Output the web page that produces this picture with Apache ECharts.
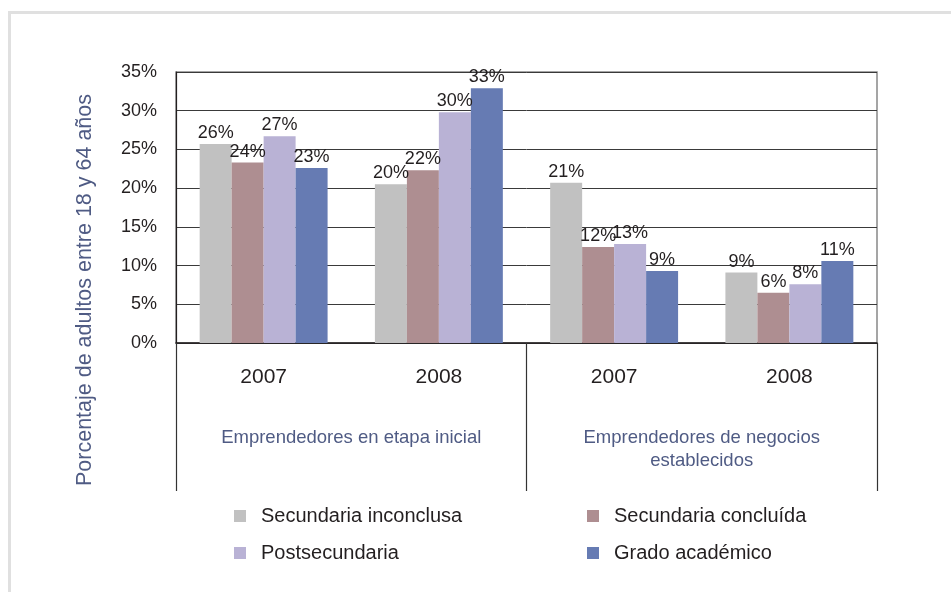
<!DOCTYPE html>
<html>
<head>
<meta charset="utf-8">
<script src="https://cdn.jsdelivr.net/npm/echarts@6/dist/echarts.min.js"></script>
<style>
	html, body {margin: 0; padding: 0; background: #fff;}
	#main {width: 951px; height: 592px;}
</style>
</head>
<body>
<div id="main"></div>
<script>
	// categorias del eje x
	var years = ['2007', '2008', '2007', '2008']
	var groups = ['Emprendedores en etapa inicial', 'Emprendedores de negocios\nestablecidos']
	var yTicks = [0, 5, 10, 15, 20, 25, 30, 35]

	// valores (%)
	var secInconclusa = [25.7, 20.5, 20.7, 9.1]
	var secConcluida = [23.3, 22.3, 12.4, 6.5]
	var postsecundaria = [26.7, 29.8, 12.8, 7.6]
	var gradoAcademico = [22.6, 32.9, 9.3, 10.6]

	// etiquetas tal como aparecen
	var lblInconclusa = ['26%', '20%', '21%', '9%']
	var lblConcluida = ['24%', '22%', '12%', '6%']
	var lblPost = ['27%', '30%', '13%', '8%']
	var lblGrado = ['23%', '33%', '9%', '11%']

	var names = ['Secundaria inconclusa', 'Secundaria concluída', 'Postsecundaria', 'Grado académico']
	var colors = ['#c1c1c1', '#ae8e91', '#b9b2d5', '#667bb3']

	var font = 'Arial, "Liberation Sans", sans-serif'
	var chart = echarts.init(document.getElementById('main'))

	function makeSeries(idx, values, labels) {
		return {
			name: names[idx],
			type: 'bar',
			xAxisIndex: 0,
			barGap: '0%',
			barCategoryGap: '27%',
			itemStyle: {color: colors[idx]},
			label: {
				show: true,
				position: 'top',
				distance: 2,
				fontSize: 18,
				fontFamily: font,
				color: '#231f20',
				formatter: function(p) { return labels[p.dataIndex] }
			},
			data: values
		}
	}

	var legendText = {fontSize: 20, fontFamily: font, color: '#231f20', padding: [0, 0, 0, 10]}

	chart.setOption({
		backgroundColor: '#fff',
		animation: false,
		grid: {
			left: 176, right: 74, top: 72, bottom: 249,
			show: true, borderColor: '#888', borderWidth: 1.5
		},
		legend: [{
			data: [names[0], names[2]],
			orient: 'vertical',
			left: 234, top: 506, padding: 0,
			icon: 'rect', itemWidth: 12, itemHeight: 12, itemGap: 17,
			textStyle: legendText
		}, {
			data: [names[1], names[3]],
			orient: 'vertical',
			left: 587, top: 506, padding: 0,
			icon: 'rect', itemWidth: 12, itemHeight: 12, itemGap: 17,
			textStyle: legendText
		}],
		xAxis: [{
			type: 'category',
			data: years,
			position: 'bottom',
			axisLine: {lineStyle: {color: '#231f20', width: 1.5}},
			axisTick: {show: false},
			axisLabel: {fontSize: 21, fontFamily: font, color: '#231f20', margin: 24}
		}, {
			type: 'category',
			data: groups,
			position: 'bottom',
			axisLine: {show: false},
			axisTick: {show: true, length: 148, lineStyle: {color: '#333', width: 1.2}},
			axisLabel: {fontSize: 18.5, fontFamily: font, color: '#4f5b84', margin: 83, lineHeight: 23}
		}],
		yAxis: {
			type: 'value',
			min: yTicks[0],
			max: yTicks[yTicks.length - 1],
			interval: 5,
			axisLine: {show: true, lineStyle: {color: '#231f20', width: 1.2}},
			axisTick: {show: false},
			axisLabel: {fontSize: 18, fontFamily: font, color: '#231f20', margin: 19, formatter: '{value}%'},
			splitLine: {lineStyle: {color: '#3a3a3a', width: 1}}
		},
		graphic: [{
			type: 'rect',
			shape: {x: 9.5, y: 12.5, width: 960, height: 600},
			style: {fill: 'none', stroke: '#e0e0e0', lineWidth: 3},
			silent: true
		}, {
			type: 'text',
			x: 85, y: 290,
			rotation: Math.PI / 2,
			style: {
				text: 'Porcentaje de adultos entre 18 y 64 años',
				fontSize: 21.5, fontFamily: font, fill: '#4f5b84',
				align: 'center', verticalAlign: 'middle'
			},
			silent: true
		}],
		series: [
			makeSeries(0, secInconclusa, lblInconclusa),
			makeSeries(1, secConcluida, lblConcluida),
			makeSeries(2, postsecundaria, lblPost),
			makeSeries(3, gradoAcademico, lblGrado)
		]
	})
</script>
</body>
</html>
